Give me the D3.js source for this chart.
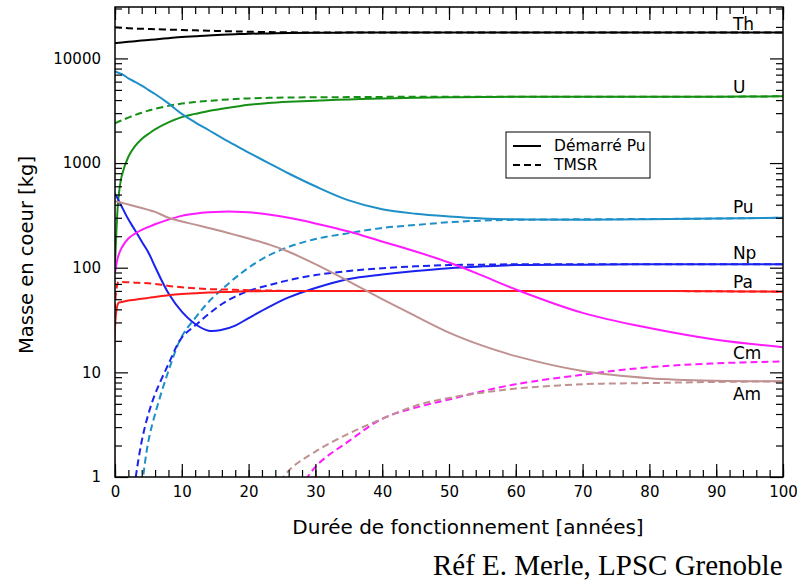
<!DOCTYPE html>
<html>
<head>
<meta charset="utf-8">
<script src="https://cdn.jsdelivr.net/npm/d3@7"></script>
<style>
  body { margin: 0; background: #fff; }
  svg { display: block; }
  text { font-family: "DejaVu Sans", sans-serif; fill: #000; }
</style>
</head>
<body>
<div id="chart"></div>
<script>
// years of operation (x axis)
const years = [0, 0.5, 1, 2, 3, 4, 5, 6, 8, 10, 12, 14, 16, 18, 20, 23, 26, 30, 35, 40, 45, 50, 55, 60, 70, 80, 90, 100];

// mass in core [kg], "Démarré Pu" (solid) and "TMSR" (dashed)
const thPu   = [14000, 14100, 14200, 14400, 14600, 14800, 15000, 15200, 15600, 16000, 16300, 16600, 16800, 17000, 17200, 17350, 17450, 17550, 17650, 17700, 17700, 17700, 17700, 17700, 17700, 17700, 17700, 17700];
const thTmsr = [19800, 19700, 19600, 19450, 19300, 19200, 19100, 19000, 18850, 18700, 18550, 18400, 18250, 18100, 18000, 17850, 17750, 17700, 17700, 17700, 17700, 17700, 17700, 17700, 17700, 17700, 17700, 17700];
const uPu    = [100, 450, 750, 1150, 1450, 1700, 1900, 2100, 2450, 2750, 2950, 3150, 3300, 3450, 3600, 3750, 3850, 3950, 4050, 4150, 4200, 4250, 4280, 4300, 4300, 4300, 4300, 4350];
const uTmsr  = [2400, 2480, 2560, 2720, 2880, 3030, 3170, 3300, 3520, 3700, 3830, 3930, 4020, 4090, 4150, 4200, 4230, 4250, 4270, 4290, 4300, 4300, 4300, 4300, 4300, 4300, 4300, 4350];
const puPu   = [7500, 7300, 7100, 6460, 5960, 5500, 5010, 4570, 3720, 2950, 2450, 2070, 1740, 1480, 1260, 1000, 795, 600, 440, 362, 328, 309, 296, 290, 288, 290, 295, 300];
const puTmsr = [null, null, null, null, 0.25, 0.8, 2.2, 4.0, 10.3, 22, 33, 47, 62, 80, 100, 131, 158, 188, 214, 240, 256, 272, 282, 287, 290, 292, 295, 300];
const npPu   = [510, 445, 385, 290, 228, 178, 140, 102, 57, 38, 29, 25, 25.5, 28, 33, 42, 52, 64, 78, 86, 93, 99, 103, 106, 107, 108, 108, 108];
const npTmsr = [null, null, null, 0.3, 0.9, 2.2, 4.0, 6.2, 12, 21.5, 28, 36, 45, 53, 60, 68, 76, 85, 93, 99, 103, 106, 107, 108, 108, 108, 108, 108];
const paPu   = [0.5, 46, 47, 48.5, 49.5, 50.5, 51.5, 52.5, 54.5, 56, 57, 58, 58.5, 59, 59.5, 60, 60, 60, 60, 60, 60, 60, 60, 60, 60, 60, 59.5, 59];
const paTmsr = [0.5, 73, 73, 72.5, 72, 71.5, 71, 70, 67, 65, 63.5, 62.5, 62, 61.5, 61, 60.5, 60, 60, 60, 60, 60, 60, 60, 60, 60, 60, 59.5, 59];
const cmPu   = [90, 130, 155, 190, 212, 230, 245, 260, 288, 313, 328, 338, 343, 343, 338, 322, 300, 265, 222, 178, 143, 112, 84, 62, 37, 26.5, 20.5, 17.4];
const cmTmsr = [null, null, null, null, null, null, null, null, null, null, null, null, null, null, null, null, 0.5, 1.25, 2.2, 3.6, 4.6, 5.5, 6.6, 7.7, 9.5, 11.2, 12.2, 12.7];
const amPu   = [431, 424, 417, 402, 387, 372, 357, 342, 300, 276, 258, 240, 223, 206, 190, 167, 142, 108, 74, 50, 34.5, 24, 18, 14.3, 10.3, 8.8, 8.3, 8.2];
const amTmsr = [null, null, null, null, null, null, null, null, null, null, null, null, null, null, null, 0.6, 1.15, 1.75, 2.6, 3.6, 4.8, 5.7, 6.4, 7.0, 7.7, 7.9, 8.1, 8.2];

const elements = ['Th', 'U', 'Pu', 'Np', 'Pa', 'Cm', 'Am'];
const colors = ['#000000', '#159015', '#1e8fc8', '#1a22f0', '#ff1a1a', '#ff1aff', '#bf9190'];
const solidSeries = [thPu, uPu, puPu, npPu, paPu, cmPu, amPu];
const dashedSeries = [thTmsr, uTmsr, puTmsr, npTmsr, paTmsr, cmTmsr, amTmsr];
// label baselines, in kg
const labelValues = [18700, 4680, 333, 121, 64, 13.4, 5.4];
const legendLabels = ['Démarré Pu', 'TMSR'];

const width = 797, height = 580;
const margin = { left: 115, right: 14, top: 7, bottom: 103 };

const svg = d3.select('#chart')
    .append('svg')
    .attr('width', width)
    .attr('height', height);

const x = d3.scaleLinear()
    .domain([0, 100])
    .range([margin.left, width - margin.right]);

const y = d3.scaleLog()
    .domain([1, 31000])
    .range([height - margin.bottom, margin.top]);

const plotW = width - margin.right - margin.left;
const plotH = height - margin.bottom - margin.top;

svg.append('clipPath')
    .attr('id', 'plot-clip')
    .append('rect')
    .attr('x', margin.left)
    .attr('y', margin.top)
    .attr('width', plotW)
    .attr('height', plotH);

// curves
const line = d3.line()
    .defined((d) => d.v != null)
    .x((d) => x(d.t))
    .y((d) => y(d.v))
    .curve(d3.curveCatmullRom.alpha(0.5));

const curves = svg.append('g').attr('clip-path', 'url(#plot-clip)');

elements.forEach((el, i) => {
    const dashedPts = years.map((t, k) => ({ t, v: dashedSeries[i][k] }));
    const solidPts = years.map((t, k) => ({ t, v: solidSeries[i][k] }));

    curves.append('path')
        .datum(dashedPts)
        .attr('d', line)
        .attr('fill', 'none')
        .attr('stroke', colors[i])
        .attr('stroke-width', 2)
        .attr('stroke-dasharray', '7,4');

    curves.append('path')
        .datum(solidPts)
        .attr('d', line)
        .attr('fill', 'none')
        .attr('stroke', colors[i])
        .attr('stroke-width', 2);
});

// axes with inward ticks
const fmt = (d) => d3.format('d')(d);
const majorY = [1, 10, 100, 1000, 10000];
const minorY = y.ticks().filter((d) => !majorY.includes(d));

const axisG = svg.append('g').attr('class', 'axes');

axisG.append('g')
    .attr('transform', `translate(0,${height - margin.bottom})`)
    .call(d3.axisBottom(x).tickValues(d3.range(0, 101, 10)).tickSize(-13).tickPadding(9).tickFormat(fmt))
    .call((g) => g.select('.domain').remove())
    .call((g) => g.selectAll('text').attr('font-size', 15));

axisG.append('g')
    .attr('transform', `translate(0,${height - margin.bottom})`)
    .call(d3.axisBottom(x).tickValues(d3.range(0, 101, 2)).tickSize(-7).tickFormat(''))
    .call((g) => g.select('.domain').remove());

axisG.append('g')
    .attr('transform', `translate(0,${margin.top})`)
    .call(d3.axisTop(x).tickValues(d3.range(0, 101, 10)).tickSize(-13).tickFormat(''))
    .call((g) => g.select('.domain').remove());

axisG.append('g')
    .attr('transform', `translate(0,${margin.top})`)
    .call(d3.axisTop(x).tickValues(d3.range(0, 101, 2)).tickSize(-7).tickFormat(''))
    .call((g) => g.select('.domain').remove());

axisG.append('g')
    .attr('transform', `translate(${margin.left},0)`)
    .call(d3.axisLeft(y).tickValues(majorY).tickSize(-13).tickPadding(14).tickFormat(fmt))
    .call((g) => g.select('.domain').remove())
    .call((g) => g.selectAll('text').attr('font-size', 15));

axisG.append('g')
    .attr('transform', `translate(${margin.left},0)`)
    .call(d3.axisLeft(y).tickValues(minorY).tickSize(-7).tickFormat(''))
    .call((g) => g.select('.domain').remove());

axisG.append('g')
    .attr('transform', `translate(${width - margin.right},0)`)
    .call(d3.axisRight(y).tickValues(majorY).tickSize(-13).tickFormat(''))
    .call((g) => g.select('.domain').remove());

axisG.append('g')
    .attr('transform', `translate(${width - margin.right},0)`)
    .call(d3.axisRight(y).tickValues(minorY).tickSize(-7).tickFormat(''))
    .call((g) => g.select('.domain').remove());

axisG.selectAll('.tick line').attr('stroke', '#000').attr('stroke-width', 1.2);

// frame
svg.append('rect')
    .attr('x', margin.left)
    .attr('y', margin.top)
    .attr('width', plotW)
    .attr('height', plotH)
    .attr('fill', 'none')
    .attr('stroke', '#000')
    .attr('stroke-width', 1.5);

// element labels near the right edge
svg.append('g')
    .selectAll('text')
    .data(elements)
    .enter()
    .append('text')
    .attr('x', x(92.5))
    .attr('y', (d, i) => y(labelValues[i]))
    .attr('font-size', 17)
    .text((d) => d);

// legend
const legend = svg.append('g').attr('transform', 'translate(506,132)');
legend.append('rect')
    .attr('width', 144)
    .attr('height', 46)
    .attr('fill', '#fff')
    .attr('stroke', '#000')
    .attr('stroke-width', 1);

legendLabels.forEach((lbl, i) => {
    const ly = 14 + i * 19;
    legend.append('line')
        .attr('x1', 7).attr('x2', 35)
        .attr('y1', ly).attr('y2', ly)
        .attr('stroke', '#000')
        .attr('stroke-width', 2)
        .attr('stroke-dasharray', i === 0 ? null : '7,4');
    legend.append('text')
        .attr('x', 48)
        .attr('y', ly + 5)
        .attr('font-size', 15.5)
        .text(lbl);
});

// axis titles
svg.append('text')
    .attr('x', 468)
    .attr('y', 534)
    .attr('text-anchor', 'middle')
    .attr('font-size', 20)
    .text('Durée de fonctionnement [années]');

svg.append('text')
    .attr('transform', 'translate(33,255) rotate(-90)')
    .attr('text-anchor', 'middle')
    .attr('font-size', 19.5)
    .text('Masse en coeur [kg]');

// source note
svg.append('text')
    .attr('x', 433)
    .attr('y', 575)
    .style('font-family', '"Liberation Serif", "Times New Roman", serif')
    .attr('font-size', 29)
    .text('Réf E. Merle, LPSC Grenoble');
</script>
</body>
</html>
